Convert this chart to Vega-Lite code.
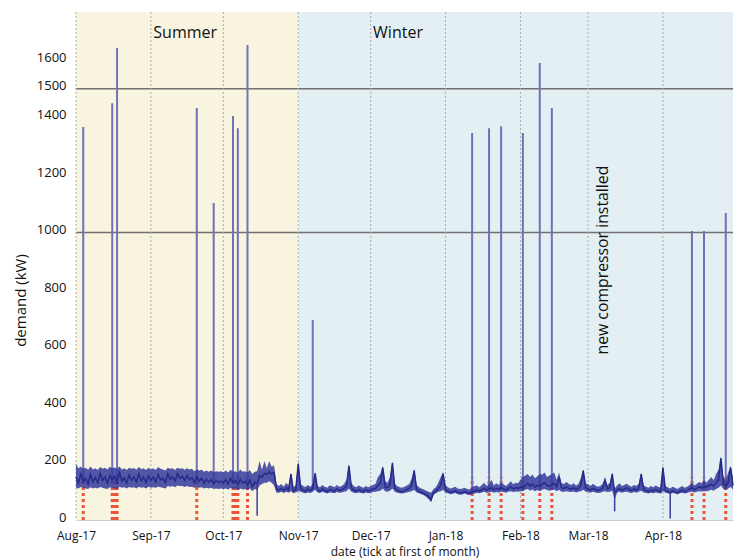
{
  "$schema": "https://vega.github.io/schema/vega-lite/v6.json",
  "width": 657,
  "height": 508,
  "autosize": {"type": "none"},
  "padding": {"left": 76, "top": 12, "right": 8, "bottom": 40},
  "background": "white",
  "config": {"view": {"stroke": null}, "font": "Open Sans", "axis": {"grid": false}},
  "datasets": {
    "seasons": [
      {"s": "2017-08-01", "e": "2017-11-01", "season": "Summer"},
      {"s": "2017-11-01", "e": "2018-04-30", "season": "Winter"}
    ],
    "months": [
      {"d": "2017-08-01"}, {"d": "2017-09-01"}, {"d": "2017-10-01"}, {"d": "2017-11-01"},
      {"d": "2017-12-01"}, {"d": "2018-01-01"}, {"d": "2018-02-01"}, {"d": "2018-03-01"}, {"d": "2018-04-01"}
    ],
    "markers": [
      {"d": "2017-08-04"}, {"d": "2017-08-16"}, {"d": "2017-08-17"}, {"d": "2017-08-18"},
      {"d": "2017-09-20"}, {"d": "2017-10-05"}, {"d": "2017-10-06"}, {"d": "2017-10-07"}, {"d": "2017-10-11"},
      {"d": "2018-01-12"}, {"d": "2018-01-19"}, {"d": "2018-01-24"}, {"d": "2018-02-02"}, {"d": "2018-02-09"},
      {"d": "2018-02-14"}, {"d": "2018-04-13"}, {"d": "2018-04-18"}, {"d": "2018-04-27"}
    ],
    "hlines": [{"y": 1000}, {"y": 1500}],
    "spikes": [
      {"d": "2017-08-04", "base": 130, "top": 1367},
      {"d": "2017-08-16", "base": 130, "top": 1450},
      {"d": "2017-08-18", "base": 130, "top": 1642},
      {"d": "2017-09-20", "base": 130, "top": 1433},
      {"d": "2017-09-27", "base": 130, "top": 1103},
      {"d": "2017-10-05", "base": 130, "top": 1405},
      {"d": "2017-10-07", "base": 130, "top": 1363},
      {"d": "2017-10-11", "base": 130, "top": 1652},
      {"d": "2017-11-07", "base": 105, "top": 696},
      {"d": "2018-01-12", "base": 100, "top": 1346},
      {"d": "2018-01-19", "base": 105, "top": 1363},
      {"d": "2018-01-24", "base": 105, "top": 1370},
      {"d": "2018-02-02", "base": 110, "top": 1346},
      {"d": "2018-02-09", "base": 115, "top": 1590},
      {"d": "2018-02-14", "base": 115, "top": 1433},
      {"d": "2018-04-13", "base": 110, "top": 1005},
      {"d": "2018-04-18", "base": 115, "top": 1005},
      {"d": "2018-04-27", "base": 120, "top": 1068}
    ],
    "dips": [
      {"d": "2017-10-15", "lo": 15, "hi": 130},
      {"d": "2018-03-12", "lo": 30, "hi": 100},
      {"d": "2018-04-04", "lo": 5, "hi": 100}
    ],
    "seasonLabels": [
      {"d": "2017-09-02", "v": 1695, "t": "Summer"},
      {"d": "2017-12-02", "v": 1695, "t": "Winter"}
    ],
    "noteLabels": [
      {"d": "2018-03-07", "v": 904, "t": "new compressor installed"}
    ],
    "series": [
      {"d":"2017-08-01","v":150,"lo":112,"hi":195},{"d":"2017-08-02","v":128,"lo":110,"hi":180},{"d":"2017-08-03","v":160,"lo":115,"hi":185},{"d":"2017-08-04","v":135,"lo":112,"hi":178},{"d":"2017-08-05","v":145,"lo":110,"hi":182},{"d":"2017-08-06","v":125,"lo":108,"hi":175},{"d":"2017-08-07","v":158,"lo":114,"hi":186},{"d":"2017-08-08","v":132,"lo":110,"hi":176},{"d":"2017-08-09","v":148,"lo":112,"hi":180},{"d":"2017-08-10","v":130,"lo":110,"hi":174},{"d":"2017-08-11","v":162,"lo":115,"hi":184},{"d":"2017-08-12","v":138,"lo":112,"hi":178},{"d":"2017-08-13","v":150,"lo":110,"hi":182},{"d":"2017-08-14","v":127,"lo":108,"hi":176},{"d":"2017-08-15","v":155,"lo":114,"hi":185},{"d":"2017-08-16","v":140,"lo":112,"hi":180},{"d":"2017-08-17","v":152,"lo":110,"hi":183},{"d":"2017-08-18","v":130,"lo":108,"hi":178},{"d":"2017-08-19","v":165,"lo":116,"hi":186},{"d":"2017-08-20","v":135,"lo":112,"hi":176},{"d":"2017-08-21","v":147,"lo":114,"hi":180},{"d":"2017-08-22","v":128,"lo":110,"hi":174},{"d":"2017-08-23","v":156,"lo":115,"hi":182},{"d":"2017-08-24","v":138,"lo":112,"hi":178},{"d":"2017-08-25","v":150,"lo":114,"hi":181},{"d":"2017-08-26","v":132,"lo":110,"hi":175},{"d":"2017-08-27","v":160,"lo":116,"hi":184},{"d":"2017-08-28","v":136,"lo":112,"hi":177},{"d":"2017-08-29","v":149,"lo":114,"hi":180},{"d":"2017-08-30","v":130,"lo":110,"hi":174},{"d":"2017-08-31","v":154,"lo":116,"hi":182},
      {"d":"2017-09-01","v":138,"lo":112,"hi":176},{"d":"2017-09-02","v":150,"lo":114,"hi":180},{"d":"2017-09-03","v":132,"lo":112,"hi":174},{"d":"2017-09-04","v":158,"lo":116,"hi":184},{"d":"2017-09-05","v":140,"lo":114,"hi":178},{"d":"2017-09-06","v":146,"lo":112,"hi":176},{"d":"2017-09-07","v":130,"lo":110,"hi":172},{"d":"2017-09-08","v":160,"lo":118,"hi":182},{"d":"2017-09-09","v":142,"lo":116,"hi":178},{"d":"2017-09-10","v":150,"lo":118,"hi":180},{"d":"2017-09-11","v":135,"lo":114,"hi":174},{"d":"2017-09-12","v":162,"lo":120,"hi":182},{"d":"2017-09-13","v":145,"lo":118,"hi":178},{"d":"2017-09-14","v":152,"lo":118,"hi":180},{"d":"2017-09-15","v":138,"lo":115,"hi":175},{"d":"2017-09-16","v":155,"lo":118,"hi":180},{"d":"2017-09-17","v":140,"lo":115,"hi":176},{"d":"2017-09-18","v":148,"lo":116,"hi":178},{"d":"2017-09-19","v":130,"lo":112,"hi":170},{"d":"2017-09-20","v":150,"lo":115,"hi":176},{"d":"2017-09-21","v":136,"lo":112,"hi":172},{"d":"2017-09-22","v":145,"lo":114,"hi":175},{"d":"2017-09-23","v":128,"lo":110,"hi":168},{"d":"2017-09-24","v":142,"lo":112,"hi":172},{"d":"2017-09-25","v":132,"lo":110,"hi":168},{"d":"2017-09-26","v":140,"lo":112,"hi":172},{"d":"2017-09-27","v":125,"lo":108,"hi":166},{"d":"2017-09-28","v":138,"lo":110,"hi":170},{"d":"2017-09-29","v":130,"lo":108,"hi":168},{"d":"2017-09-30","v":135,"lo":110,"hi":170},
      {"d":"2017-10-01","v":128,"lo":108,"hi":166},{"d":"2017-10-02","v":140,"lo":110,"hi":172},{"d":"2017-10-03","v":125,"lo":106,"hi":165},{"d":"2017-10-04","v":145,"lo":112,"hi":175},{"d":"2017-10-05","v":130,"lo":108,"hi":168},{"d":"2017-10-06","v":138,"lo":110,"hi":170},{"d":"2017-10-07","v":122,"lo":104,"hi":164},{"d":"2017-10-08","v":142,"lo":110,"hi":176},{"d":"2017-10-09","v":128,"lo":106,"hi":168},{"d":"2017-10-10","v":135,"lo":108,"hi":170},{"d":"2017-10-11","v":120,"lo":104,"hi":165},{"d":"2017-10-12","v":140,"lo":110,"hi":174},{"d":"2017-10-13","v":115,"lo":100,"hi":160},{"d":"2017-10-14","v":132,"lo":108,"hi":168},{"d":"2017-10-15","v":125,"lo":104,"hi":170},{"d":"2017-10-16","v":155,"lo":120,"hi":205},{"d":"2017-10-17","v":148,"lo":125,"hi":175},{"d":"2017-10-18","v":162,"lo":130,"hi":205},{"d":"2017-10-19","v":158,"lo":130,"hi":180},{"d":"2017-10-20","v":168,"lo":135,"hi":205},{"d":"2017-10-21","v":160,"lo":130,"hi":185},{"d":"2017-10-22","v":165,"lo":120,"hi":190},{"d":"2017-10-23","v":108,"lo":95,"hi":125},{"d":"2017-10-24","v":104,"lo":95,"hi":118},{"d":"2017-10-25","v":110,"lo":98,"hi":125},{"d":"2017-10-26","v":102,"lo":94,"hi":116},{"d":"2017-10-27","v":112,"lo":98,"hi":130},{"d":"2017-10-28","v":104,"lo":95,"hi":120},{"d":"2017-10-29","v":160,"lo":100,"hi":165},{"d":"2017-10-30","v":100,"lo":93,"hi":115},{"d":"2017-10-31","v":106,"lo":96,"hi":120},
      {"d":"2017-11-01","v":195,"lo":100,"hi":205},{"d":"2017-11-02","v":110,"lo":98,"hi":125},{"d":"2017-11-03","v":104,"lo":95,"hi":118},{"d":"2017-11-04","v":100,"lo":93,"hi":115},{"d":"2017-11-05","v":108,"lo":96,"hi":122},{"d":"2017-11-06","v":102,"lo":94,"hi":116},{"d":"2017-11-07","v":110,"lo":98,"hi":124},{"d":"2017-11-08","v":162,"lo":105,"hi":168},{"d":"2017-11-09","v":105,"lo":96,"hi":118},{"d":"2017-11-10","v":100,"lo":94,"hi":114},{"d":"2017-11-11","v":108,"lo":98,"hi":122},{"d":"2017-11-12","v":103,"lo":95,"hi":116},{"d":"2017-11-13","v":99,"lo":92,"hi":112},{"d":"2017-11-14","v":106,"lo":96,"hi":120},{"d":"2017-11-15","v":104,"lo":95,"hi":118},{"d":"2017-11-16","v":100,"lo":93,"hi":114},{"d":"2017-11-17","v":108,"lo":97,"hi":122},{"d":"2017-11-18","v":102,"lo":95,"hi":116},{"d":"2017-11-19","v":105,"lo":96,"hi":118},{"d":"2017-11-20","v":110,"lo":98,"hi":125},{"d":"2017-11-21","v":118,"lo":100,"hi":140},{"d":"2017-11-22","v":188,"lo":110,"hi":195},{"d":"2017-11-23","v":112,"lo":98,"hi":128},{"d":"2017-11-24","v":104,"lo":95,"hi":118},{"d":"2017-11-25","v":100,"lo":93,"hi":114},{"d":"2017-11-26","v":106,"lo":96,"hi":120},{"d":"2017-11-27","v":102,"lo":94,"hi":116},{"d":"2017-11-28","v":98,"lo":92,"hi":112},{"d":"2017-11-29","v":105,"lo":96,"hi":118},{"d":"2017-11-30","v":100,"lo":93,"hi":114},
      {"d":"2017-12-01","v":104,"lo":95,"hi":118},{"d":"2017-12-02","v":108,"lo":97,"hi":122},{"d":"2017-12-03","v":110,"lo":98,"hi":126},{"d":"2017-12-04","v":120,"lo":100,"hi":150},{"d":"2017-12-05","v":130,"lo":102,"hi":160},{"d":"2017-12-06","v":182,"lo":110,"hi":188},{"d":"2017-12-07","v":115,"lo":100,"hi":135},{"d":"2017-12-08","v":112,"lo":98,"hi":130},{"d":"2017-12-09","v":125,"lo":102,"hi":150},{"d":"2017-12-10","v":198,"lo":110,"hi":205},{"d":"2017-12-11","v":110,"lo":98,"hi":125},{"d":"2017-12-12","v":104,"lo":95,"hi":118},{"d":"2017-12-13","v":100,"lo":93,"hi":114},{"d":"2017-12-14","v":98,"lo":92,"hi":112},{"d":"2017-12-15","v":102,"lo":94,"hi":116},{"d":"2017-12-16","v":106,"lo":96,"hi":120},{"d":"2017-12-17","v":110,"lo":98,"hi":125},{"d":"2017-12-18","v":120,"lo":100,"hi":145},{"d":"2017-12-19","v":172,"lo":105,"hi":178},{"d":"2017-12-20","v":108,"lo":96,"hi":122},{"d":"2017-12-21","v":100,"lo":93,"hi":114},{"d":"2017-12-22","v":96,"lo":90,"hi":110},{"d":"2017-12-23","v":92,"lo":86,"hi":106},{"d":"2017-12-24","v":88,"lo":80,"hi":102},{"d":"2017-12-25","v":82,"lo":72,"hi":98},{"d":"2017-12-26","v":70,"lo":62,"hi":95},{"d":"2017-12-27","v":95,"lo":88,"hi":108},{"d":"2017-12-28","v":100,"lo":93,"hi":114},{"d":"2017-12-29","v":110,"lo":98,"hi":130},{"d":"2017-12-30","v":120,"lo":100,"hi":150},{"d":"2017-12-31","v":160,"lo":105,"hi":168},
      {"d":"2018-01-01","v":105,"lo":95,"hi":120},{"d":"2018-01-02","v":100,"lo":93,"hi":114},{"d":"2018-01-03","v":96,"lo":90,"hi":110},{"d":"2018-01-04","v":98,"lo":91,"hi":112},{"d":"2018-01-05","v":102,"lo":94,"hi":116},{"d":"2018-01-06","v":97,"lo":90,"hi":110},{"d":"2018-01-07","v":94,"lo":88,"hi":108},{"d":"2018-01-08","v":96,"lo":89,"hi":110},{"d":"2018-01-09","v":99,"lo":92,"hi":112},{"d":"2018-01-10","v":95,"lo":88,"hi":108},{"d":"2018-01-11","v":93,"lo":87,"hi":106},{"d":"2018-01-12","v":98,"lo":90,"hi":115},{"d":"2018-01-13","v":100,"lo":92,"hi":118},{"d":"2018-01-14","v":104,"lo":95,"hi":120},{"d":"2018-01-15","v":100,"lo":93,"hi":114},{"d":"2018-01-16","v":105,"lo":96,"hi":122},{"d":"2018-01-17","v":110,"lo":98,"hi":130},{"d":"2018-01-18","v":104,"lo":95,"hi":118},{"d":"2018-01-19","v":108,"lo":96,"hi":125},{"d":"2018-01-20","v":112,"lo":98,"hi":140},{"d":"2018-01-21","v":105,"lo":95,"hi":120},{"d":"2018-01-22","v":110,"lo":97,"hi":128},{"d":"2018-01-23","v":106,"lo":96,"hi":122},{"d":"2018-01-24","v":112,"lo":98,"hi":130},{"d":"2018-01-25","v":108,"lo":97,"hi":124},{"d":"2018-01-26","v":104,"lo":95,"hi":118},{"d":"2018-01-27","v":110,"lo":98,"hi":126},{"d":"2018-01-28","v":115,"lo":100,"hi":135},{"d":"2018-01-29","v":108,"lo":97,"hi":124},{"d":"2018-01-30","v":112,"lo":99,"hi":130},{"d":"2018-01-31","v":110,"lo":98,"hi":128},
      {"d":"2018-02-01","v":115,"lo":100,"hi":140},{"d":"2018-02-02","v":112,"lo":100,"hi":150},{"d":"2018-02-03","v":120,"lo":105,"hi":155},{"d":"2018-02-04","v":128,"lo":108,"hi":160},{"d":"2018-02-05","v":118,"lo":102,"hi":150},{"d":"2018-02-06","v":125,"lo":106,"hi":158},{"d":"2018-02-07","v":115,"lo":100,"hi":145},{"d":"2018-02-08","v":120,"lo":104,"hi":152},{"d":"2018-02-09","v":118,"lo":100,"hi":160},{"d":"2018-02-10","v":125,"lo":105,"hi":158},{"d":"2018-02-11","v":130,"lo":108,"hi":165},{"d":"2018-02-12","v":120,"lo":104,"hi":150},{"d":"2018-02-13","v":118,"lo":102,"hi":155},{"d":"2018-02-14","v":122,"lo":104,"hi":160},{"d":"2018-02-15","v":128,"lo":106,"hi":165},{"d":"2018-02-16","v":115,"lo":100,"hi":140},{"d":"2018-02-17","v":150,"lo":105,"hi":165},{"d":"2018-02-18","v":112,"lo":98,"hi":128},{"d":"2018-02-19","v":110,"lo":98,"hi":125},{"d":"2018-02-20","v":115,"lo":100,"hi":132},{"d":"2018-02-21","v":110,"lo":98,"hi":126},{"d":"2018-02-22","v":108,"lo":97,"hi":122},{"d":"2018-02-23","v":112,"lo":99,"hi":128},{"d":"2018-02-24","v":106,"lo":96,"hi":120},{"d":"2018-02-25","v":110,"lo":98,"hi":125},{"d":"2018-02-26","v":120,"lo":100,"hi":145},{"d":"2018-02-27","v":172,"lo":105,"hi":176},{"d":"2018-02-28","v":112,"lo":98,"hi":128},
      {"d":"2018-03-01","v":108,"lo":97,"hi":124},{"d":"2018-03-02","v":104,"lo":95,"hi":118},{"d":"2018-03-03","v":110,"lo":98,"hi":126},{"d":"2018-03-04","v":106,"lo":96,"hi":120},{"d":"2018-03-05","v":102,"lo":94,"hi":116},{"d":"2018-03-06","v":105,"lo":95,"hi":118},{"d":"2018-03-07","v":110,"lo":98,"hi":125},{"d":"2018-03-08","v":140,"lo":100,"hi":145},{"d":"2018-03-09","v":108,"lo":97,"hi":122},{"d":"2018-03-10","v":112,"lo":98,"hi":130},{"d":"2018-03-11","v":160,"lo":102,"hi":165},{"d":"2018-03-12","v":95,"lo":70,"hi":110},{"d":"2018-03-13","v":105,"lo":95,"hi":120},{"d":"2018-03-14","v":110,"lo":98,"hi":128},{"d":"2018-03-15","v":104,"lo":95,"hi":118},{"d":"2018-03-16","v":108,"lo":97,"hi":122},{"d":"2018-03-17","v":112,"lo":98,"hi":126},{"d":"2018-03-18","v":106,"lo":96,"hi":120},{"d":"2018-03-19","v":103,"lo":94,"hi":116},{"d":"2018-03-20","v":108,"lo":97,"hi":122},{"d":"2018-03-21","v":104,"lo":95,"hi":118},{"d":"2018-03-22","v":110,"lo":98,"hi":126},{"d":"2018-03-23","v":160,"lo":102,"hi":165},{"d":"2018-03-24","v":106,"lo":96,"hi":120},{"d":"2018-03-25","v":102,"lo":94,"hi":116},{"d":"2018-03-26","v":99,"lo":92,"hi":112},{"d":"2018-03-27","v":104,"lo":95,"hi":118},{"d":"2018-03-28","v":100,"lo":93,"hi":114},{"d":"2018-03-29","v":106,"lo":96,"hi":120},{"d":"2018-03-30","v":102,"lo":94,"hi":116},{"d":"2018-03-31","v":98,"lo":92,"hi":112},
      {"d":"2018-04-01","v":182,"lo":100,"hi":188},{"d":"2018-04-02","v":104,"lo":95,"hi":118},{"d":"2018-04-03","v":100,"lo":93,"hi":114},{"d":"2018-04-04","v":96,"lo":90,"hi":110},{"d":"2018-04-05","v":102,"lo":94,"hi":116},{"d":"2018-04-06","v":98,"lo":92,"hi":112},{"d":"2018-04-07","v":95,"lo":89,"hi":108},{"d":"2018-04-08","v":100,"lo":93,"hi":114},{"d":"2018-04-09","v":104,"lo":95,"hi":118},{"d":"2018-04-10","v":98,"lo":92,"hi":112},{"d":"2018-04-11","v":102,"lo":94,"hi":116},{"d":"2018-04-12","v":108,"lo":97,"hi":122},{"d":"2018-04-13","v":112,"lo":98,"hi":130},{"d":"2018-04-14","v":106,"lo":96,"hi":120},{"d":"2018-04-15","v":110,"lo":98,"hi":126},{"d":"2018-04-16","v":115,"lo":100,"hi":132},{"d":"2018-04-17","v":112,"lo":99,"hi":128},{"d":"2018-04-18","v":118,"lo":100,"hi":138},{"d":"2018-04-19","v":114,"lo":100,"hi":130},{"d":"2018-04-20","v":120,"lo":102,"hi":140},{"d":"2018-04-21","v":125,"lo":105,"hi":150},{"d":"2018-04-22","v":118,"lo":102,"hi":138},{"d":"2018-04-23","v":130,"lo":108,"hi":160},{"d":"2018-04-24","v":140,"lo":112,"hi":175},{"d":"2018-04-25","v":215,"lo":120,"hi":220},{"d":"2018-04-26","v":125,"lo":108,"hi":150},{"d":"2018-04-27","v":118,"lo":104,"hi":140},{"d":"2018-04-28","v":130,"lo":110,"hi":165},{"d":"2018-04-29","v":182,"lo":115,"hi":188},{"d":"2018-04-30","v":120,"lo":106,"hi":145}
    ]
  },
  "layer": [
    {
      "data": {"name": "seasons"},
      "mark": {"type": "rect"},
      "encoding": {
        "x": {
          "field": "s", "type": "temporal",
          "scale": {"type": "utc", "domain": [{"year": 2017, "month": 8, "date": 1, "utc": true}, {"year": 2018, "month": 4, "date": 30, "utc": true}]},
          "axis": {
            "title": "date (tick at first of month)",
            "format": "%b-%y",
            "values": [
              {"year": 2017, "month": 8, "date": 1, "utc": true}, {"year": 2017, "month": 9, "date": 1, "utc": true},
              {"year": 2017, "month": 10, "date": 1, "utc": true}, {"year": 2017, "month": 11, "date": 1, "utc": true},
              {"year": 2017, "month": 12, "date": 1, "utc": true}, {"year": 2018, "month": 1, "date": 1, "utc": true},
              {"year": 2018, "month": 2, "date": 1, "utc": true}, {"year": 2018, "month": 3, "date": 1, "utc": true},
              {"year": 2018, "month": 4, "date": 1, "utc": true}
            ],
            "grid": false, "ticks": false, "domain": true, "domainColor": "#cfcfcf",
            "labelFlush": false, "labelOverlap": false, "labelAlign": "center",
            "labelFont": "Open Sans", "labelFontSize": 12, "labelColor": "#111111", "labelPadding": 10,
            "titleFont": "Open Sans", "titleFontSize": 12, "titleFontWeight": "normal", "titleColor": "#111111", "titlePadding": 5
          }
        },
        "x2": {"field": "e"},
        "color": {"field": "season", "type": "nominal", "scale": {"domain": ["Summer", "Winter"], "range": ["#f8f4df", "#e3eff2"]}, "legend": null}
      }
    },
    {
      "data": {"name": "hlines"},
      "mark": {"type": "rule", "stroke": "#707070", "strokeWidth": 1.5},
      "encoding": {
        "y": {
          "field": "y", "type": "quantitative",
          "scale": {"domain": [0, 1767], "nice": false},
          "axis": {
            "title": "demand (kW)",
            "format": "d",
            "values": [0, 200, 400, 600, 800, 1000, 1200, 1400, 1500, 1600],
            "grid": false, "ticks": false, "domain": false, "labelFlush": false, "labelOverlap": false,
            "labelFont": "Open Sans", "labelFontSize": 13, "labelColor": "#111111", "labelPadding": 10, "labelOffset": -3,
            "titleFont": "Open Sans", "titleFontSize": 15, "titleFontWeight": "normal", "titleColor": "#111111",
            "titleX": -56, "titleY": 288, "titleBaseline": "middle", "titleAlign": "center", "titleAngle": 270
          }
        }
      }
    },
    {
      "data": {"name": "months"},
      "mark": {"type": "rule", "stroke": "#a9a9a9", "strokeDash": [2, 2], "strokeWidth": 1},
      "encoding": {"x": {"field": "d", "type": "temporal"}}
    },
    {
      "data": {"name": "markers"},
      "mark": {"type": "rule", "stroke": "#e8553a", "strokeDash": [3, 3], "strokeWidth": 3},
      "encoding": {
        "x": {"field": "d", "type": "temporal"},
        "y": {"datum": 0, "type": "quantitative"},
        "y2": {"datum": 150}
      }
    },
    {
      "data": {"name": "spikes"},
      "mark": {"type": "rule", "stroke": "#6f72b8", "strokeWidth": 2},
      "encoding": {
        "x": {"field": "d", "type": "temporal"},
        "y": {"field": "base", "type": "quantitative"},
        "y2": {"field": "top"}
      }
    },
    {
      "data": {"name": "series"},
      "mark": {"type": "area", "color": "#353a9c", "opacity": 0.85},
      "encoding": {
        "x": {"field": "d", "type": "temporal"},
        "y": {"field": "lo", "type": "quantitative"},
        "y2": {"field": "hi"}
      }
    },
    {
      "data": {"name": "series"},
      "mark": {"type": "line", "color": "#262a88", "strokeWidth": 1.5},
      "encoding": {
        "x": {"field": "d", "type": "temporal"},
        "y": {"field": "v", "type": "quantitative"}
      }
    },
    {
      "data": {"name": "dips"},
      "mark": {"type": "rule", "stroke": "#3a3e9c", "strokeWidth": 1.5},
      "encoding": {
        "x": {"field": "d", "type": "temporal"},
        "y": {"field": "lo", "type": "quantitative"},
        "y2": {"field": "hi"}
      }
    },
    {
      "data": {"name": "seasonLabels"},
      "mark": {"type": "text", "align": "left", "baseline": "middle", "font": "Open Sans", "fontSize": 16, "color": "#111111"},
      "encoding": {
        "x": {"field": "d", "type": "temporal"},
        "y": {"field": "v", "type": "quantitative"},
        "text": {"field": "t"}
      }
    },
    {
      "data": {"name": "noteLabels"},
      "mark": {"type": "text", "align": "center", "baseline": "middle", "angle": 270, "font": "Open Sans", "fontSize": 15.8, "color": "#111111"},
      "encoding": {
        "x": {"field": "d", "type": "temporal"},
        "y": {"field": "v", "type": "quantitative"},
        "text": {"field": "t"}
      }
    }
  ]
}
